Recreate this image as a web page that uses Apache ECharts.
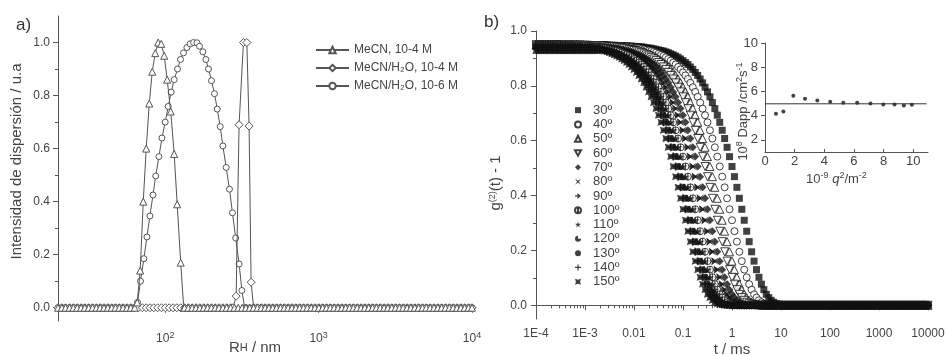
<!DOCTYPE html>
<html>
<head>
<meta charset="utf-8">
<script src="https://cdn.jsdelivr.net/npm/echarts@6/dist/echarts.min.js"></script>
<style>html,body{margin:0;padding:0;background:#fff}#c{width:946px;height:356px}</style>
</head>
<body>
<div id="c"></div>
<script>
// ---------- Panel a) : size distributions ----------
const seriesNamesA = ['MeCN, 10-4 M', 'MeCN/H₂O, 10-4 M', 'MeCN/H₂O, 10-6 M'];
// radii where the distributions sit on the zero baseline (nm)
const baseR = [20,21.2,22.4,23.8,25.2,26.7,28.3,29.9,31.7,33.6,35.6,37.7,39.9,42.3,44.8,47.4,50.2,53.2,56.4,59.7,
63.2,67.0,71.0,75.2,79.6,84.3,89.3,94.6,100.2,106.2,112.5,119.1,126.2,133.7,141.6,150.0,158.9,168.3,178.3,188.9,
200.1,212.0,224.5,237.8,251.9,266.9,282.7,299.5,317.2,336.0,356.0,377.1,399.4,423.1,448.2,474.8,503.0,532.8,564.4,597.9,
633.3,670.9,710.7,752.8,797.5,844.8,894.9,947.9,1004,1064,1127,1193,1264,1339,1419,1503,1592,1686,1786,1892,
2004,2123,2249,2382,2524,2673,2832,3000,3178,3366,3566,3777,4001,4239,4490,4756,5038,5337,5654,5989,
6344,6720,7119,7541,7989,8462,8964,9496,10000];
// MeCN, 10-4 M (triangles)
const triR = [65.7,68.7,71.9,75.2,78.7,82.3,86.1,90.0,94.2,98.5,103.0,108.6,114.4,119.7,126.2,132.0];
const triI = [0.02,0.14,0.40,0.60,0.77,0.89,0.96,1.0,0.995,0.95,0.86,0.74,0.58,0.39,0.17,0];
// MeCN/H2O, 10-4 M (diamonds)
const diaR = [277,290,303,323.6,340.6,352.2,363,377];
const diaI = [0,0.044,0.69,1.0,1.0,0.685,0.096,0];
// MeCN/H2O, 10-6 M (circles)
const cirR = [62.8,66.0,69.0,72.6,76.0,79.5,83.2,86.7,91.0,95.2,100,104.6,109.4,114.4,120.3,125.8,131.6,138.5,145.5,152.9,
160.9,167.3,176.1,184.1,191.5,200.3,209.6,218.3,228.3,237.7,249.7,262.4,274.4,287.9,303.4,316.0,329.6];
const cirI = [0,0.02,0.10,0.185,0.267,0.346,0.425,0.497,0.57,0.64,0.70,0.759,0.813,0.86,0.90,0.936,0.961,0.981,0.995,1.0,
0.999,0.986,0.965,0.936,0.90,0.856,0.807,0.749,0.683,0.61,0.529,0.447,0.358,0.263,0.165,0.065,0];
const rTickVals = [100, 1000, 10000];
const rTickLabels = ['2', '3', '4'];

// ---------- Panel b) : correlation functions ----------
const angleNames = ['30º','40º','50º','60º','70º','80º','90º','100º','110º','120º','130º','140º','150º'];
const tGrid = [
1e-4,1.122e-4,1.259e-4,1.413e-4,1.585e-4,1.778e-4,1.995e-4,2.239e-4,2.512e-4,2.818e-4,3.162e-4,3.548e-4,3.981e-4,4.467e-4,5.012e-4,5.623e-4,6.310e-4,7.079e-4,7.943e-4,8.913e-4,
1e-3,1.122e-3,1.259e-3,1.413e-3,1.585e-3,1.778e-3,1.995e-3,2.239e-3,2.512e-3,2.818e-3,3.162e-3,3.548e-3,3.981e-3,4.467e-3,5.012e-3,5.623e-3,6.310e-3,7.079e-3,7.943e-3,8.913e-3,
1e-2,1.122e-2,1.259e-2,1.413e-2,1.585e-2,1.778e-2,1.995e-2,2.239e-2,2.512e-2,2.818e-2,3.162e-2,3.548e-2,3.981e-2,4.467e-2,5.012e-2,5.623e-2,6.310e-2,7.079e-2,7.943e-2,8.913e-2,
1e-1,1.122e-1,1.259e-1,1.413e-1,1.585e-1,1.778e-1,1.995e-1,2.239e-1,2.512e-1,2.818e-1,3.162e-1,3.548e-1,3.981e-1,4.467e-1,5.012e-1,5.623e-1,6.310e-1,7.079e-1,7.943e-1,8.913e-1,
1,1.122,1.259,1.413,1.585,1.778,1.995,2.239,2.512,2.818,3.162,3.548,3.981,4.467,5.012,5.623,6.310,7.079,7.943,8.913,
10,11.22,12.59,14.13,15.85,17.78,19.95,22.39,25.12,28.18,31.62,35.48,39.81,44.67,50.12,56.23,63.10,70.79,79.43,89.13,
100,112.2,125.9,141.3,158.5,177.8,199.5,223.9,251.2,281.8,316.2,354.8,398.1,446.7,501.2,562.3,631.0,707.9,794.3,891.3,
1000,1122,1259,1413,1585,1778,1995,2239,2512,2818,3162,3548,3981,4467,5012,5623,6310,7079,7943,8913,
10000];
// g2(t)-1 in thousandths
const g30 = [
950,950,950,950,950,950,950,950,950,950,950,950,950,950,950,950,950,950,950,950,
949,949,949,949,949,949,949,949,949,949,
948,948,948,947,947,947,946,946,945,945,
944,943,943,942,941,939,938,937,935,933,
931,929,927,924,921,917,913,909,904,898,
892,885,878,869,860,849,838,825,811,795,
778,760,739,717,693,667,638,608,576,542,
506,469,430,390,350,310,270,232,195,161,
130,102,77,57,40,28,18,11,6,4,
2,1,
0,0,0,0,0,0,0,0,0,0,
0,0,0,0,0,0,0,0,0,0,
0,0,0,0,0,0,0,0,0,0,
0,0,0,0,0,0,0,0,0,0,
0,0,0,0,0,0,0,0,0,0,
0,0,0,0,0,0,0,0,0];
const g40 = [
950,950,950,950,950,950,950,950,950,950,950,950,950,950,950,
949,949,949,949,949,949,949,949,949,949,
948,948,948,947,947,947,946,946,945,945,
944,943,943,942,941,939,938,937,935,933,
931,929,927,924,921,917,913,909,904,898,
892,885,878,869,860,849,838,825,811,795,
778,760,739,717,693,667,638,608,576,542,
506,469,430,390,350,310,270,232,195,161,
130,102,77,57,40,28,18,11,6,4,
2,1,
0,0,0,0,0,0,0,0,0,0,
0,0,0,0,0,0,0,0,0,0,
0,0,0,0,0,0,0,0,0,0,
0,0,0,0,0,0,0,0,0,0,
0,0,0,0,0,0,0,0,0,0,
0,0,0,0,0,0,0,0,0,0,
0,0,0,0];
const g50 = [
950,950,950,950,950,950,950,950,950,950,950,
949,949,949,949,949,949,949,949,949,949,
948,948,948,947,947,947,946,946,945,945,
944,943,943,942,941,939,938,937,935,933,
931,929,927,924,921,917,913,909,904,898,
892,885,878,869,860,849,838,825,811,795,
778,760,739,717,693,667,638,608,576,542,
506,469,430,390,350,310,270,232,195,161,
130,102,77,57,40,28,18,11,6,4,
2,1,
0,0,0,0,0,0,0,0,0,0,
0,0,0,0,0,0,0,0,0,0,
0,0,0,0,0,0,0,0,0,0,
0,0,0,0,0,0,0,0,0,0,
0,0,0,0,0,0,0,0,0,0,
0,0,0,0,0,0,0,0,0,0,
0,0,0,0,0,0,0,0];
const g60 = [
950,950,950,950,950,950,950,950,950,
949,949,949,949,949,949,949,949,949,949,
948,948,948,947,947,947,946,946,945,945,
944,943,943,942,941,939,938,937,935,933,
931,929,927,924,921,917,913,909,904,898,
892,885,878,869,860,849,838,825,811,795,
778,760,739,717,693,667,638,608,576,542,
506,469,430,390,350,310,270,232,195,161,
130,102,77,57,40,28,18,11,6,4,
2,1,
0,0,0,0,0,0,0,0,0,0,
0,0,0,0,0,0,0,0,0,0,
0,0,0,0,0,0,0,0,0,0,
0,0,0,0,0,0,0,0,0,0,
0,0,0,0,0,0,0,0,0,0,
0,0,0,0,0,0,0,0,0,0,
0,0,0,0,0,0,0,0,0,0];
const g70 = [
950,950,950,950,950,950,
949,949,949,949,949,949,949,949,949,949,
948,948,948,947,947,947,946,946,945,945,
944,943,943,942,941,939,938,937,935,933,
931,929,927,924,921,917,913,909,904,898,
892,885,878,869,860,849,838,825,811,795,
778,760,739,717,693,667,638,608,576,542,
506,469,430,390,350,310,270,232,195,161,
130,102,77,57,40,28,18,11,6,4,
2,1,
0,0,0,0,0,0,0,0,0,0,
0,0,0,0,0,0,0,0,0,0,
0,0,0,0,0,0,0,0,0,0,
0,0,0,0,0,0,0,0,0,0,
0,0,0,0,0,0,0,0,0,0,
0,0,0,0,0,0,0,0,0,0,
0,0,0,0,0,0,0,0,0,0,
0,0,0];
const g80 = [
950,950,950,950,
949,949,949,949,949,949,949,949,949,949,
948,948,948,947,947,947,946,946,945,945,
944,943,943,942,941,939,938,937,935,933,
931,929,927,924,921,917,913,909,904,898,
892,885,878,869,860,849,838,825,811,795,
778,760,739,717,693,667,638,608,576,542,
506,469,430,390,350,310,270,232,195,161,
130,102,77,57,40,28,18,11,6,4,
2,1,
0,0,0,0,0,0,0,0,0,0,
0,0,0,0,0,0,0,0,0,0,
0,0,0,0,0,0,0,0,0,0,
0,0,0,0,0,0,0,0,0,0,
0,0,0,0,0,0,0,0,0,0,
0,0,0,0,0,0,0,0,0,0,
0,0,0,0,0,0,0,0,0,0,
0,0,0,0,0];
const g90 = [
950,950,950,
949,949,949,949,949,949,949,949,949,949,
948,948,948,947,947,947,946,946,945,945,
944,943,943,942,941,939,938,937,935,933,
931,929,927,924,921,917,913,909,904,898,
892,885,878,869,860,849,838,825,811,795,
778,760,739,717,693,667,638,608,576,542,
506,469,430,390,350,310,270,232,195,161,
130,102,77,57,40,28,18,11,6,4,
2,1,
0,0,0,0,0,0,0,0,0,0,
0,0,0,0,0,0,0,0,0,0,
0,0,0,0,0,0,0,0,0,0,
0,0,0,0,0,0,0,0,0,0,
0,0,0,0,0,0,0,0,0,0,
0,0,0,0,0,0,0,0,0,0,
0,0,0,0,0,0,0,0,0,0,
0,0,0,0,0,0];
const g100 = [
950,
949,949,949,949,949,949,949,949,949,949,
948,948,948,947,947,947,946,946,945,945,
944,943,943,942,941,939,938,937,935,933,
931,929,927,924,921,917,913,909,904,898,
892,885,878,869,860,849,838,825,811,795,
778,760,739,717,693,667,638,608,576,542,
506,469,430,390,350,310,270,232,195,161,
130,102,77,57,40,28,18,11,6,4,
2,1,
0,0,0,0,0,0,0,0,0,0,
0,0,0,0,0,0,0,0,0,0,
0,0,0,0,0,0,0,0,0,0,
0,0,0,0,0,0,0,0,0,0,
0,0,0,0,0,0,0,0,0,0,
0,0,0,0,0,0,0,0,0,0,
0,0,0,0,0,0,0,0,0,0,
0,0,0,0,0,0,0,0];
const g110 = [
949,949,949,949,949,949,949,949,949,949,
948,948,948,947,947,947,946,946,945,945,
944,943,943,942,941,939,938,937,935,933,
931,929,927,924,921,917,913,909,904,898,
892,885,878,869,860,849,838,825,811,795,
778,760,739,717,693,667,638,608,576,542,
506,469,430,390,350,310,270,232,195,161,
130,102,77,57,40,28,18,11,6,4,
2,1,
0,0,0,0,0,0,0,0,0,0,
0,0,0,0,0,0,0,0,0,0,
0,0,0,0,0,0,0,0,0,0,
0,0,0,0,0,0,0,0,0,0,
0,0,0,0,0,0,0,0,0,0,
0,0,0,0,0,0,0,0,0,0,
0,0,0,0,0,0,0,0,0,0,
0,0,0,0,0,0,0,0,0];
const g120 = [
949,949,949,949,949,949,949,949,949,
948,948,948,947,947,947,946,946,945,945,
944,943,943,942,941,939,938,937,935,933,
931,929,927,924,921,917,913,909,904,898,
892,885,878,869,860,849,838,825,811,795,
778,760,739,717,693,667,638,608,576,542,
506,469,430,390,350,310,270,232,195,161,
130,102,77,57,40,28,18,11,6,4,
2,1,
0,0,0,0,0,0,0,0,0,0,
0,0,0,0,0,0,0,0,0,0,
0,0,0,0,0,0,0,0,0,0,
0,0,0,0,0,0,0,0,0,0,
0,0,0,0,0,0,0,0,0,0,
0,0,0,0,0,0,0,0,0,0,
0,0,0,0,0,0,0,0,0,0,
0,0,0,0,0,0,0,0,0,0];
const g130 = [
940,940,940,940,940,940,940,940,940,940,940,940,940,940,940,940,940,940,940,940,940,940,940,
939,938,937,935,933,
931,929,927,924,921,917,913,909,904,898,
892,885,878,869,860,849,838,825,811,795,
778,760,739,717,693,667,638,608,576,542,
506,469,430,390,350,310,270,232,195,161,
130,102,77,57,40,28,18,11,6,4,
2,1,
0,0,0,0,0,0,0,0,0,0,
0,0,0,0,0,0,0,0,0,0,
0,0,0,0,0,0,0,0,0,0,
0,0,0,0,0,0,0,0,0,0,
0,0,0,0,0,0,0,0,0,0,
0,0,0,0,0,0,0,0,0,0,
0,0,0,0,0,0,0,0,0,0,
0,0,0,0,0,0,0,0,0,0,
0];
const g140 = [
935,935,935,935,935,935,935,935,935,935,935,935,935,935,935,935,935,935,935,935,935,935,935,935,
937,935,933,
931,929,927,924,921,917,913,909,904,898,
892,885,878,869,860,849,838,825,811,795,
778,760,739,717,693,667,638,608,576,542,
506,469,430,390,350,310,270,232,195,161,
130,102,77,57,40,28,18,11,6,4,
2,1,
0,0,0,0,0,0,0,0,0,0,
0,0,0,0,0,0,0,0,0,0,
0,0,0,0,0,0,0,0,0,0,
0,0,0,0,0,0,0,0,0,0,
0,0,0,0,0,0,0,0,0,0,
0,0,0,0,0,0,0,0,0,0,
0,0,0,0,0,0,0,0,0,0,
0,0,0,0,0,0,0,0,0,0,
0,0];
const g150 = [
928,928,928,928,928,928,928,928,928,928,928,928,928,928,928,928,928,928,928,928,928,928,928,928,928,928,
931,929,927,924,921,917,913,909,904,898,
892,885,878,869,860,849,838,825,811,795,
778,760,739,717,693,667,638,608,576,542,
506,469,430,390,350,310,270,232,195,161,
130,102,77,57,40,28,18,11,6,4,
2,1,
0,0,0,0,0,0,0,0,0,0,
0,0,0,0,0,0,0,0,0,0,
0,0,0,0,0,0,0,0,0,0,
0,0,0,0,0,0,0,0,0,0,
0,0,0,0,0,0,0,0,0,0,
0,0,0,0,0,0,0,0,0,0,
0,0,0,0,0,0,0,0,0,0,
0,0,0,0,0,0,0,0,0,0,
0,0,0];
const gAll = [g30,g40,g50,g60,g70,g80,g90,g100,g110,g120,g130,g140,g150];
const tTickVals = [1e-4,1e-3,1e-2,1e-1,1,10,100,1000,10000];
const tTickLabels = ['1E-4','1E-3','0.01','0.1','1','10','100','1000','10000'];

// ---------- Inset : apparent diffusion coefficient ----------
const q2 = [0.74,1.24,1.91,2.70,3.53,4.40,5.28,6.22,7.12,7.98,8.74,9.37,9.91];
const dapp = [4.15,4.34,5.64,5.39,5.26,5.14,5.06,5.06,5.00,4.92,4.92,4.84,4.90];
const fitQ = [0, 10.9];
const fitD = [4.98, 4.98];

// ---------- build ----------
gAll.forEach((g, k) => { if (g.length !== tGrid.length) console.error('length mismatch', angleNames[k], g.length); });

const FONT = '"Liberation Sans", Arial, sans-serif';
const TXT = '#444';
const AX = '#555';

function minorLog(lo, hi, eFrom, eTo) {
  const out = [];
  for (let e = eFrom; e <= eTo; e++) for (let m = 2; m <= 9; m++) {
    const v = m * Math.pow(10, e);
    if (v > lo && v < hi) out.push(v);
  }
  return out;
}

function withBaseline(pr, pi) {
  const pts = baseR.filter(r => r < pr[0] || r > pr[pr.length - 1]).map(r => [r, 0]);
  pr.forEach((r, i) => pts.push([r, pi[i]]));
  return pts.sort((a, b) => a[0] - b[0]);
}

const supRich = { sup: { fontSize: 9, padding: [0, 0, 7, 0], fontFamily: FONT, color: TXT } };

const lineStyleA = { color: '#555', width: 1 };
const itemA = { color: '#fff', borderColor: '#555', borderWidth: 1 };

const symB = [
  { symbol: 'rect', size: 7, open: false },
  { symbol: 'circle', size: 7, open: true },
  { symbol: 'triangle', size: 8, open: true },
  { symbol: 'path://M0,0 L10,0 L5,9 Z', size: 8, open: true },
  { symbol: 'diamond', size: 8, open: false },
  { symbol: 'path://M0,0 L5,3.5 L10,0 L6.5,5 L10,10 L5,6.5 L0,10 L3.5,5 Z', size: 8, open: false },
  { symbol: 'path://M0,4 L4,4 L4,0 L10,5 L4,10 L4,6 L0,6 Z', size: 8, open: false },
  { symbol: 'path://M5,0 A5,5 0 1,1 4.99,0 Z M5,0 L5,10', size: 7, open: true },
  { symbol: 'path://M5,0 L6.2,3.6 L10,3.6 L6.9,5.9 L8.1,9.5 L5,7.3 L1.9,9.5 L3.1,5.9 L0,3.6 L3.8,3.6 Z', size: 8, open: false },
  { symbol: 'path://M5,5 L5,0 A5,5 0 1,0 10,5 Z', size: 7, open: false },
  { symbol: 'circle', size: 7, open: false },
  { symbol: 'path://M4,0 L6,0 L6,4 L10,4 L10,6 L6,6 L6,10 L4,10 L4,6 L0,6 L0,4 L4,4 Z', size: 8, open: false },
  { symbol: 'path://M0,0 L5,1.5 L10,0 L8.5,5 L10,10 L5,8.5 L0,10 L1.5,5 Z', size: 7, open: false }
];

const seriesB = gAll.map((g, k) => ({
  type: 'scatter',
  name: angleNames[k],
  xAxisIndex: 2, yAxisIndex: 2,
  symbol: symB[k].symbol,
  symbolSize: symB[k].size,
  itemStyle: symB[k].open ? { color: '#fff', borderColor: '#111', borderWidth: 1 } : { color: '#111' },
  data: tGrid.map((t, i) => [t, g[i] / 1000]),
  z: 2 + k
}));

const baseAxis = {
  splitLine: { show: false },
  nameMoveOverlap: false,
  axisLine: { lineStyle: { color: AX, width: 1 } },
  axisTick: { lineStyle: { color: AX } },
  axisLabel: { color: TXT, fontFamily: FONT }
};

const option = {
  animation: false,
  backgroundColor: '#fff',
  textStyle: { fontFamily: FONT },
  title: [
    { text: 'a)', left: 11, top: 12, textStyle: { fontSize: 17, fontWeight: 'normal', color: '#333', fontFamily: FONT } },
    { text: 'b)', left: 479, top: 9, textStyle: { fontSize: 17, fontWeight: 'normal', color: '#333', fontFamily: FONT } }
  ],
  legend: [
    {
      data: seriesNamesA,
      orient: 'vertical', left: 310, top: 36,
      itemWidth: 33, itemHeight: 8, itemGap: 0,
      textStyle: { fontSize: 12, color: TXT, lineHeight: 18, fontFamily: FONT },
      selectedMode: false
    },
    {
      data: angleNames,
      orient: 'vertical', left: 569, top: 98,
      itemWidth: 6, itemHeight: 6, itemGap: 0,
      textStyle: { fontSize: 13, color: TXT, lineHeight: 14.3, padding: [0, 0, 0, 7], fontFamily: FONT },
      selectedMode: false
    }
  ],
  grid: [
    { left: 58, top: 16, width: 414, height: 305, outerBoundsMode: 'none', containLabel: false },
    { left: 536, top: 31, width: 392, height: 288, outerBoundsMode: 'none', containLabel: false },
    { left: 765, top: 43, width: 163, height: 109, outerBoundsMode: 'none', containLabel: false }
  ],
  xAxis: [
    Object.assign({}, baseAxis, {
      type: 'log', logBase: 10, gridIndex: 0, min: 20, max: 10000, position: 'bottom',
      axisTick: { customValues: rTickVals, length: 5, lineStyle: { color: AX } },
      axisLabel: { customValues: rTickVals, margin: 10, color: TXT, fontSize: 12, fontFamily: FONT,
        formatter: v => '10{sup|' + rTickLabels[rTickVals.findIndex(x => Math.abs(Math.log10(x) - Math.log10(v)) < 1e-6)] + '}',
        rich: supRich },
      name: 'R{h|H} / nm', nameLocation: 'middle', nameGap: 19,
      nameTextStyle: { fontSize: 15, color: TXT, fontFamily: FONT, padding: [0, 20, 0, 0],
        rich: { h: { fontSize: 11, color: TXT, fontFamily: FONT } } }
    }),
    {
      type: 'log', logBase: 10, gridIndex: 0, min: 20, max: 10000, position: 'bottom',
      splitLine: { show: false }, axisLine: { show: false }, axisLabel: { show: false },
      axisTick: { customValues: minorLog(20, 10000, 1, 3), length: 3, lineStyle: { color: AX } }
    },
    Object.assign({}, baseAxis, {
      type: 'log', logBase: 10, gridIndex: 1, min: 1e-4, max: 1e4, position: 'bottom',
      axisTick: { customValues: tTickVals, length: 5, lineStyle: { color: AX } },
      axisLabel: { customValues: tTickVals, margin: 9, color: TXT, fontSize: 12, fontFamily: FONT,
        formatter: v => tTickLabels[tTickVals.findIndex(x => Math.abs(Math.log10(x) - Math.log10(v)) < 1e-6)] },
      name: 't / ms', nameLocation: 'middle', nameGap: 23,
      nameTextStyle: { fontSize: 15, color: TXT, fontFamily: FONT }
    }),
    {
      type: 'log', logBase: 10, gridIndex: 1, min: 1e-4, max: 1e4, position: 'bottom',
      splitLine: { show: false }, axisLine: { show: false }, axisLabel: { show: false },
      axisTick: { customValues: minorLog(1e-4, 1e4, -4, 3), length: 3, lineStyle: { color: AX } }
    },
    Object.assign({}, baseAxis, {
      type: 'value', gridIndex: 2, min: 0, max: 11, position: 'bottom',
      axisTick: { customValues: [0, 2, 4, 6, 8, 10], length: 3, inside: true, lineStyle: { color: AX } },
      axisLabel: { customValues: [0, 2, 4, 6, 8, 10], margin: 3, color: TXT, fontSize: 13, fontFamily: FONT },
      name: '10{sup|-9} {i|q}{sup|2}/m{sup|-2}', nameLocation: 'middle', nameGap: 19,
      nameTextStyle: { fontSize: 13, color: TXT, fontFamily: FONT, padding: [0, 20, 0, 0],
        rich: { sup: { fontSize: 9, padding: [0, 0, 7, 0], color: TXT, fontFamily: FONT },
                i: { fontSize: 13, fontStyle: 'italic', color: TXT, fontFamily: FONT } } }
    })
  ],
  yAxis: [
    Object.assign({}, baseAxis, {
      type: 'value', gridIndex: 0, min: -0.05, max: 1.1, position: 'left',
      axisTick: { customValues: [0, 0.2, 0.4, 0.6, 0.8, 1.0], length: 5, lineStyle: { color: AX } },
      axisLabel: { customValues: [0, 0.2, 0.4, 0.6, 0.8, 1.0], margin: 8, color: TXT, fontSize: 12, fontFamily: FONT,
        formatter: v => v.toFixed(1) },
      name: 'Intensidad de dispersión / u.a', nameLocation: 'middle', nameGap: 34,
      nameTextStyle: { fontSize: 15, color: TXT, fontFamily: FONT, padding: [0, 0, 0, 14] }
    }),
    {
      type: 'value', gridIndex: 0, min: -0.05, max: 1.1, position: 'left',
      splitLine: { show: false }, axisLine: { show: false }, axisLabel: { show: false },
      axisTick: { customValues: [0.1, 0.3, 0.5, 0.7, 0.9], length: 3, lineStyle: { color: AX } }
    },
    Object.assign({}, baseAxis, {
      type: 'value', gridIndex: 1, min: -0.05, max: 1.0, position: 'left',
      axisTick: { customValues: [0, 0.2, 0.4, 0.6, 0.8, 1.0], length: 5, lineStyle: { color: AX } },
      axisLabel: { customValues: [0, 0.2, 0.4, 0.6, 0.8, 1.0], margin: 9, color: TXT, fontSize: 12, fontFamily: FONT,
        formatter: v => v.toFixed(1) },
      name: 'g{sup|(2)}(t) - 1', nameLocation: 'middle', nameGap: 32,
      nameTextStyle: { fontSize: 15, color: TXT, fontFamily: FONT, padding: [0, 16, 0, 0], rich: supRich }
    }),
    {
      type: 'value', gridIndex: 1, min: -0.05, max: 1.0, position: 'left',
      splitLine: { show: false }, axisLine: { show: false }, axisLabel: { show: false },
      axisTick: { customValues: [0.1, 0.3, 0.5, 0.7, 0.9], length: 3, lineStyle: { color: AX } }
    },
    Object.assign({}, baseAxis, {
      type: 'value', gridIndex: 2, min: 1, max: 10, position: 'left',
      axisTick: { customValues: [2, 4, 6, 8, 10], length: 4, lineStyle: { color: AX } },
      axisLabel: { customValues: [2, 4, 6, 8, 10], margin: 7, color: TXT, fontSize: 13, fontFamily: FONT },
      name: '10{sup|8} Dapp /cm{sup|2}s{sup|-1}', nameLocation: 'middle', nameGap: 14,
      nameTextStyle: { fontSize: 13, color: TXT, fontFamily: FONT, padding: [0, 28, 0, 0],
        rich: { sup: { fontSize: 9, padding: [0, 0, 7, 0], color: TXT, fontFamily: FONT } } }
    })
  ],
  series: [
    {
      type: 'line', name: seriesNamesA[0], xAxisIndex: 0, yAxisIndex: 0,
      symbol: 'triangle', symbolSize: 7, showAllSymbol: true,
      lineStyle: lineStyleA, itemStyle: itemA, data: withBaseline(triR, triI), z: 4
    },
    {
      type: 'line', name: seriesNamesA[1], xAxisIndex: 0, yAxisIndex: 0,
      symbol: 'diamond', symbolSize: 8, showAllSymbol: true,
      lineStyle: lineStyleA, itemStyle: itemA, data: withBaseline(diaR, diaI), z: 3
    },
    {
      type: 'line', name: seriesNamesA[2], xAxisIndex: 0, yAxisIndex: 0,
      symbol: 'circle', symbolSize: 6, showAllSymbol: true,
      lineStyle: lineStyleA, itemStyle: itemA, data: withBaseline(cirR, cirI), z: 2
    },
    ...seriesB,
    {
      type: 'line', name: 'fit', xAxisIndex: 4, yAxisIndex: 4, symbol: 'none',
      lineStyle: { color: '#333', width: 1 }, data: fitQ.map((q, i) => [q, fitD[i]])
    },
    {
      type: 'scatter', name: 'Dapp', xAxisIndex: 4, yAxisIndex: 4, symbol: 'circle', symbolSize: 4,
      itemStyle: { color: '#111' }, data: q2.map((q, i) => [q, dapp[i]])
    }
  ]
};

const chart = echarts.init(document.getElementById('c'));
chart.setOption(option);
</script>
</body>
</html>
